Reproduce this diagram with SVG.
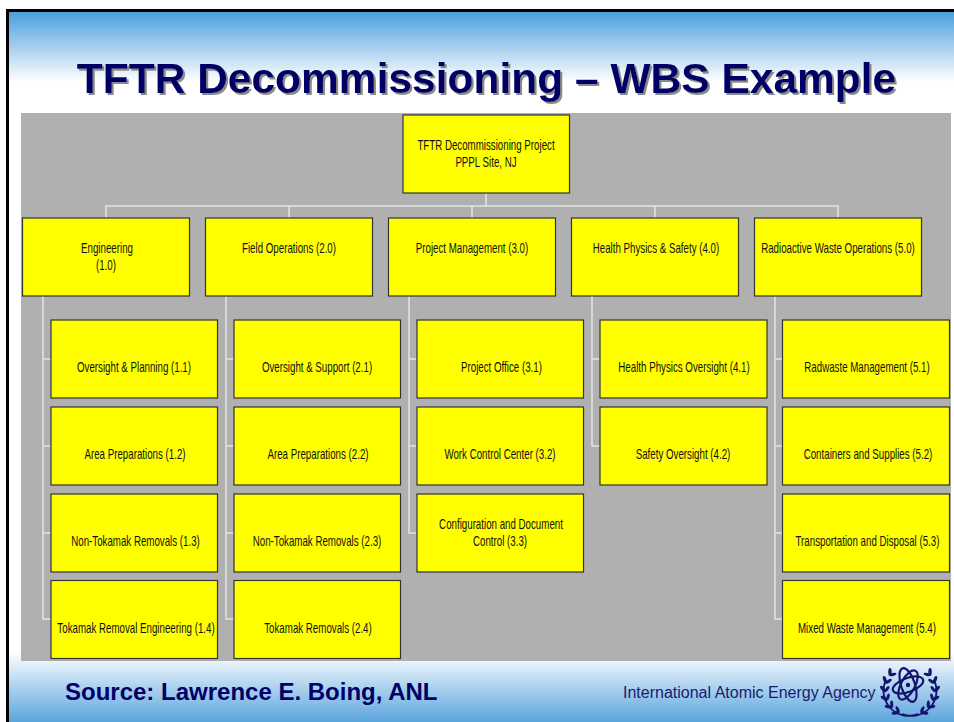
<svg xmlns="http://www.w3.org/2000/svg" width="954" height="722" viewBox="0 0 954 722">
<style>
.b{fill:#ff0;stroke:#333;stroke-width:1.2}
.t{font:14px "Liberation Sans",Arial,sans-serif;fill:#111;text-anchor:middle}
.c{fill:none;stroke:#e4e4e4;stroke-width:1.5}
.title{font:bold 42.500px "Liberation Sans",Arial,sans-serif;text-anchor:middle}
.lf{fill:#14146e}
</style>
<defs>
<linearGradient id="gt" x1="0" y1="0" x2="0" y2="1"><stop offset="0" stop-color="#4b9fdd"/><stop offset="1" stop-color="#fff"/></linearGradient>
<linearGradient id="gb" x1="0" y1="0" x2="0" y2="1"><stop offset="0" stop-color="#fff"/><stop offset="1" stop-color="#5ba5de"/></linearGradient>
<filter id="sh" x="-5%" y="-20%" width="110%" height="140%"><feDropShadow dx="2" dy="2" stdDeviation="0.600" flood-color="#8a8a8a"/></filter>
<g id="lf" class="lf"><ellipse cx="911" cy="664" rx="1.700" ry="4" transform="rotate(50 911 664)"/><ellipse cx="911" cy="668" rx="1.500" ry="3.500" transform="rotate(125 911 668)"/></g>
<g id="rf" class="lf"><ellipse cx="909" cy="664" rx="1.700" ry="4" transform="rotate(-50 909 664)"/><ellipse cx="909" cy="668" rx="1.500" ry="3.500" transform="rotate(-125 909 668)"/></g>
</defs>
<rect width="954" height="722" fill="#fff"/>
<rect x="9" y="12" width="945" height="70" fill="url(#gt)"/>
<rect x="9" y="652" width="945" height="70" fill="url(#gb)"/>
<path d="M7.500 722V10.500H954" fill="none" stroke="#000" stroke-width="3"/>
<text class="title" x="486.500" y="93" fill="#000066" filter="url(#sh)">TFTR Decommissioning – WBS Example</text>
<rect x="21" y="113" width="930" height="548" fill="#b0b0b0"/>
<g id="connectors" class="c">
<path d="M486 193V206M106 218V206H838V218M289 206V218M472 206V218M655 206V218"/>
<path d="M43 296V619H51M43 359H51M43 446H51M43 533H51"/>
<path d="M226 296V619H234M226 359H234M226 446H234M226 533H234"/>
<path d="M409 296V533H417M409 359H417M409 446H417"/>
<path d="M592 296V446H600M592 359H600"/>
<path d="M775 296V619H782M775 359H782M775 446H782M775 533H782"/>
</g>
<g id="n0"><rect class="b" x="403" y="115" width="166.500" height="78"/><text class="t" transform="translate(486 150) scale(.695 1)">TFTR Decommissioning Project</text><text class="t" transform="translate(486 167) scale(.695 1)">PPPL Site, NJ</text></g>
<g id="n1"><rect class="b" x="22.500" y="218" width="167" height="78"/><text class="t" transform="translate(107 253) scale(.695 1)">Engineering</text><text class="t" transform="translate(106 270) scale(.695 1)">(1.0)</text></g>
<g id="n2"><rect class="b" x="205.500" y="218" width="167" height="78"/><text class="t" transform="translate(289 253) scale(.695 1)">Field Operations (2.0)</text></g>
<g id="n3"><rect class="b" x="388.500" y="218" width="167" height="78"/><text class="t" transform="translate(472 253) scale(.695 1)">Project Management (3.0)</text></g>
<g id="n4"><rect class="b" x="571.500" y="218" width="167" height="78"/><text class="t" transform="translate(656 253) scale(.695 1)">Health Physics &amp; Safety (4.0)</text></g>
<g id="n5"><rect class="b" x="754.500" y="218" width="167" height="78"/><text class="t" transform="translate(838 253) scale(.695 1)">Radioactive Waste Operations (5.0)</text></g>
<g id="n11"><rect class="b" x="51" y="320" width="166.500" height="78"/><text class="t" transform="translate(134 372) scale(.695 1)">Oversight &amp; Planning (1.1)</text></g>
<g id="n12"><rect class="b" x="51" y="407" width="166.500" height="78"/><text class="t" transform="translate(135 459) scale(.695 1)">Area Preparations (1.2)</text></g>
<g id="n13"><rect class="b" x="51" y="494" width="166.500" height="78"/><text class="t" transform="translate(135.500 546) scale(.695 1)">Non-Tokamak Removals (1.3)</text></g>
<g id="n14"><rect class="b" x="51" y="580.500" width="166.500" height="78"/><text class="t" transform="translate(136 633) scale(.695 1)">Tokamak Removal Engineering (1.4)</text></g>
<g id="n21"><rect class="b" x="234" y="320" width="166.500" height="78"/><text class="t" transform="translate(317 372) scale(.695 1)">Oversight &amp; Support (2.1)</text></g>
<g id="n22"><rect class="b" x="234" y="407" width="166.500" height="78"/><text class="t" transform="translate(318 459) scale(.695 1)">Area Preparations (2.2)</text></g>
<g id="n23"><rect class="b" x="234" y="494" width="166.500" height="78"/><text class="t" transform="translate(317 546) scale(.695 1)">Non-Tokamak Removals (2.3)</text></g>
<g id="n24"><rect class="b" x="234" y="580.500" width="166.500" height="78"/><text class="t" transform="translate(318 633) scale(.695 1)">Tokamak Removals (2.4)</text></g>
<g id="n31"><rect class="b" x="417" y="320" width="166.500" height="78"/><text class="t" transform="translate(501.500 372) scale(.695 1)">Project Office (3.1)</text></g>
<g id="n32"><rect class="b" x="417" y="407" width="166.500" height="78"/><text class="t" transform="translate(500 459) scale(.695 1)">Work Control Center (3.2)</text></g>
<g id="n33"><rect class="b" x="417" y="494" width="166.500" height="78"/><text class="t" transform="translate(501 529) scale(.695 1)">Configuration and Document</text><text class="t" transform="translate(500 546) scale(.695 1)">Control (3.3)</text></g>
<g id="n41"><rect class="b" x="600" y="320" width="167" height="78"/><text class="t" transform="translate(684 372) scale(.695 1)">Health Physics Oversight (4.1)</text></g>
<g id="n42"><rect class="b" x="600" y="407" width="167" height="78"/><text class="t" transform="translate(683 459) scale(.695 1)">Safety Oversight (4.2)</text></g>
<g id="n51"><rect class="b" x="782.500" y="320" width="167" height="78"/><text class="t" transform="translate(867 372) scale(.695 1)">Radwaste Management (5.1)</text></g>
<g id="n52"><rect class="b" x="782.500" y="407" width="167" height="78"/><text class="t" transform="translate(868 459) scale(.695 1)">Containers and Supplies (5.2)</text></g>
<g id="n53"><rect class="b" x="782.500" y="494" width="167" height="78"/><text class="t" transform="translate(867.500 546) scale(.695 1)">Transportation and Disposal (5.3)</text></g>
<g id="n54"><rect class="b" x="782.500" y="580.500" width="167" height="78"/><text class="t" transform="translate(867 633) scale(.695 1)">Mixed Waste Management (5.4)</text></g>
<text x="65" y="700" font-family="Liberation Sans, Arial, sans-serif" font-weight="bold" font-size="24" fill="#000066">Source: Lawrence E. Boing, ANL</text>
<text x="623" y="698" font-family="Liberation Sans, Arial, sans-serif" font-size="16" fill="#1a1a70">International Atomic Energy Agency</text>
<g id="logo">
<g fill="none" stroke="#14146e" stroke-width="2.200">
<ellipse cx="908" cy="685" rx="7" ry="17.500" transform="rotate(-18 908 685)"/>
<ellipse cx="908" cy="685" rx="7" ry="16" transform="rotate(70 908 685)"/>
<ellipse cx="908" cy="685" rx="7" ry="16" transform="rotate(28 908 685)"/>
<path d="M886 680A25 25 0 0 0 918 714M934 680A25 25 0 0 1 902 714" stroke-width="1.800"/>
</g>
<circle cx="908" cy="685" r="2.200" fill="#14146e"/>
<use href="#lf" transform="rotate(-50 910 690) translate(0 -1)"/><use href="#lf" transform="rotate(-70 910 690) translate(0 -1)"/><use href="#lf" transform="rotate(-90 910 690) translate(0 -1)"/><use href="#lf" transform="rotate(-110 910 690) translate(0 -1)"/><use href="#lf" transform="rotate(-130 910 690) translate(0 -1)"/><use href="#lf" transform="rotate(-150 910 690) translate(0 -1)"/>
<use href="#rf" transform="rotate(50 910 690) translate(0 -1)"/><use href="#rf" transform="rotate(70 910 690) translate(0 -1)"/><use href="#rf" transform="rotate(90 910 690) translate(0 -1)"/><use href="#rf" transform="rotate(110 910 690) translate(0 -1)"/><use href="#rf" transform="rotate(130 910 690) translate(0 -1)"/><use href="#rf" transform="rotate(150 910 690) translate(0 -1)"/>
</g>
</svg>
